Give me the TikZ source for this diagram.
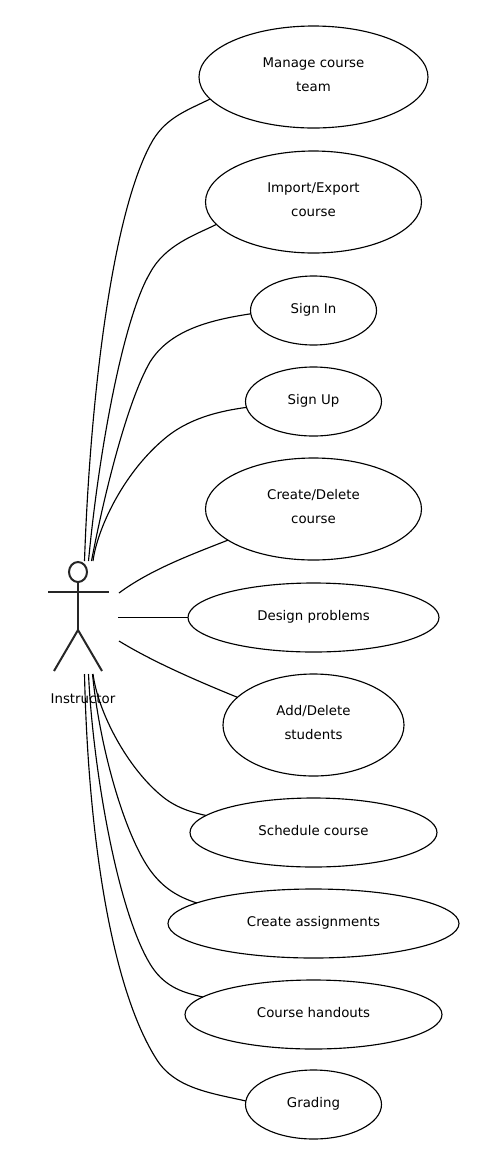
\documentclass[tikz,border=0pt]{standalone}
\usepackage{fontspec}
\setmainfont{DejaVu Sans}
\usetikzlibrary{shapes.geometric}

\tikzset{
	usecase/.style={draw, ellipse, line width=0.85pt, inner sep=0pt, outer sep=0pt, align=center,
		font=\fontsize{10}{18}\selectfont, text depth=3.8pt},
	link/.style={line width=0.85pt},
	stick/.style={line width=1.5pt, draw=black!85}
}

\begin{document}
\begin{tikzpicture}[x=0.75pt, y=-0.75pt]
	\useasboundingbox (0,0) rectangle (487,1165);
	
	% use cases
	\foreach \n/\y/\rx/\ry/\t in
	{manage/77/114.5/51/{Manage course\\team},
	 import/202/108/51/{Import/Export\\course},
	 signin/310.5/63/34.5/{Sign In},
	 signup/401.5/68/34.5/{Sign Up},
	 create/509/108/51/{Create/Delete\\course},
	 design/617.5/125.5/34.5/{Design problems},
	 students/725/90.5/51/{Add/Delete\\students},
	 schedule/832.5/123.5/34.5/{Schedule course},
	 assign/923.5/145.5/34.5/{Create assignments},
	 handouts/1014.5/128.5/34.5/{Course handouts},
	 grading/1104.5/68/34.5/{Grading}}{
		\node[usecase, minimum width=\rx*1.5pt, minimum height=\ry*1.5pt] (\n) at (313.5,\y) {\t};
	}
	
	% actor
	\node[stick, draw, ellipse, inner sep=0pt, outer sep=0pt, minimum width=13.5pt, minimum height=15pt] (head) at (78,572) {};
	\coordinate (handl) at (48,592);
	\coordinate (handr) at (109,592);
	\coordinate (hip) at (78,630);
	\coordinate (footl) at (54,671);
	\coordinate (footr) at (102,671);
	\draw[stick] (handl)--(handr);
	\draw[stick] (head)--(hip);
	\draw[stick] (footl)--(hip)--(footr);
	\node[font=\fontsize{10}{12}\selectfont] (instructor) at (83,699) {Instructor};
	
	% free ends at the actor
	\foreach \x/\y/\z in
	{ta/84.5/561, tb/88.5/561, tc/91.5/561, td/93/561,
	 ma/119/593, mb/118/617.5, mc/119/641,
	 ba/93/674, bb/92.5/674, bc/88.5/674, bd/84.5/674}{
		\coordinate (\x) at (\y,\z);
	}
	
	% upper links
	\draw[link] (ta) .. controls (90,400) and (112,210) .. (153,140) .. controls (167,117) and (188,110) .. (manage.192.9);
	\draw[link] (tb) .. controls (100,440) and (125,315) .. (150,273) .. controls (165,245) and (195,235) .. (import.193);
	\draw[link] (tc) .. controls (105,490) and (128,400) .. (150,362) .. controls (170,330) and (210,320) .. (signin.183.6);
	\draw[link] (td) .. controls (97,530) and (122,475) .. (163,440) .. controls (188,418) and (220,411) .. (signup.185);
	\draw[link] (ma) .. controls (150,570) and (190,555) .. (create.200.3);
	\draw[link] (mb)--(design);
	\draw[link] (mc) .. controls (150,660) and (190,678) .. (students.160.2);
	
	% lower links
	\draw[link] (ba) .. controls (98,712) and (127,768) .. (163,797) .. controls (178,809) and (195,813) .. (schedule.171.3);
	\draw[link] (bb) .. controls (100,750) and (125,835) .. (150,870) .. controls (163,888) and (178,897) .. (assign.170.8);
	\draw[link] (bc) .. controls (93,770) and (118,915) .. (152,967) .. controls (166,988) and (185,993) .. (handouts.171.7);
	\draw[link] (bd) .. controls (88,830) and (110,987) .. (157,1060) .. controls (175,1088) and (210,1093) .. (grading.177.4);
\end{tikzpicture}
\end{document}
